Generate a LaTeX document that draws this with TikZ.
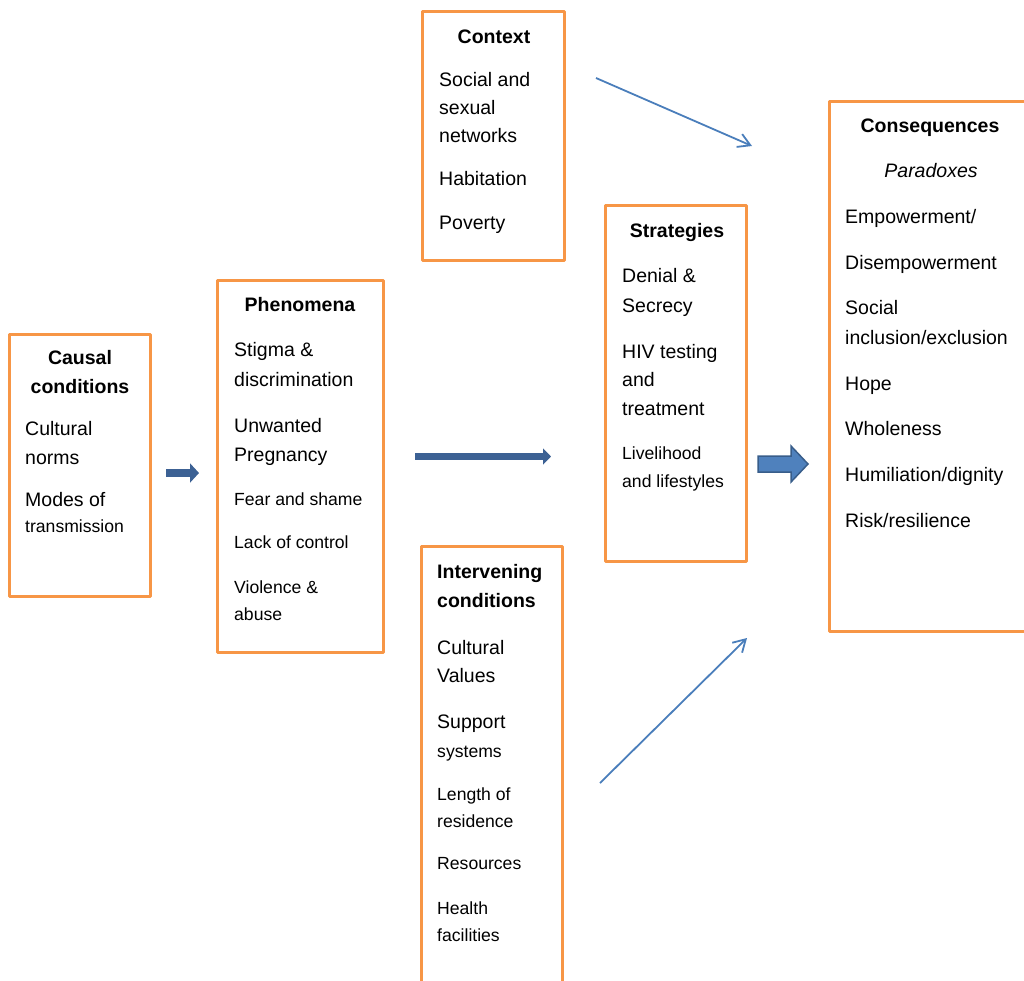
\documentclass[tikz,border=0pt]{standalone}
\usepackage{fontspec}
\setmainfont{Liberation Sans}
\usetikzlibrary{arrows.meta}

\definecolor{boxorange}{HTML}{F79646}
\definecolor{darkarrow}{HTML}{3C6194}
\definecolor{fillarrow}{HTML}{4F81BD}
\definecolor{edgearrow}{HTML}{385D8A}
\definecolor{thinarrow}{HTML}{4A7EBB}

\tikzset{
  box/.style={draw=boxorange, line width=3pt, line join=round, inner sep=0pt, outer sep=0pt, anchor=north west},
  lg/.style={inner sep=0pt, anchor=base west, font=\fontsize{19.5}{23}\selectfont},
  sm/.style={inner sep=0pt, anchor=base west, font=\fontsize{17.6}{21}\selectfont},
  hd/.style={inner sep=0pt, anchor=base, font=\fontsize{19.5}{23}\selectfont\bfseries},
  thin/.style={draw=thinarrow, line width=1.8pt, -{Straight Barb[length=12pt,width=14pt]}},
}

\begin{document}
\begin{tikzpicture}[x=1pt, y=-1pt]
			\useasboundingbox (0,0) rectangle (1024,980);
			\clip (0,0) rectangle (1024,980);
			
			% Boxes
			\node[box, minimum width=141pt, minimum height=262pt] (causal) at (9.5,334.5) {};
			\node[box, minimum width=166pt, minimum height=372pt] (phen) at (217.5,280.5) {};
			\node[box, minimum width=142pt, minimum height=248.5pt] (ctx) at (422.5,11.5) {};
			\node[box, minimum width=141pt, minimum height=453.5pt] (interv) at (421.5,546.5) {};
			\node[box, minimum width=141pt, minimum height=356pt] (strat) at (605.5,205.5) {};
			\node[box, minimum width=211pt, minimum height=530pt] (conseq) at (829,101) {};
			
			% Causal conditions
			\node[hd] (causal-t1) at (80,364.5) {Causal};
			\node[hd] (causal-t2) at (80,393.5) {conditions};
			\node[lg] (causal-1) at (25,435.5) {Cultural};
			\node[lg] (causal-2) at (25,464.5) {norms};
			\node[lg] (causal-3) at (25,506.5) {Modes of};
			\node[sm] (causal-4) at (25,532.5) {transmission};
			
			% Phenomena
			\node[hd] (phen-t) at (300,311.5) {Phenomena};
			\node[lg] (phen-1) at (234,356.5) {Stigma \&};
			\node[lg] (phen-2) at (234,386.5) {discrimination};
			\node[lg] (phen-3) at (234,432.5) {Unwanted};
			\node[lg] (phen-4) at (234,461.5) {Pregnancy};
			\node[sm] (phen-5) at (234,505.5) {Fear and shame};
			\node[sm] (phen-6) at (234,548.5) {Lack of control};
			\node[sm] (phen-7) at (234,593.5) {Violence \&};
			\node[sm] (phen-8) at (234,620.5) {abuse};
			
			% Context
			\node[hd] (ctx-t) at (494,43) {Context};
			\node[lg] (ctx-1) at (439,86.5) {Social and};
			\node[lg] (ctx-2) at (439,114.5) {sexual};
			\node[lg] (ctx-3) at (439,142.5) {networks};
			\node[lg] (ctx-4) at (439,185.5) {Habitation};
			\node[lg] (ctx-5) at (439,229.5) {Poverty};
			
			% Intervening conditions
			\node[hd, anchor=base west] (interv-t1) at (437,578.5) {Intervening};
			\node[hd, anchor=base west] (interv-t2) at (437,607.5) {conditions};
			\node[lg] (interv-1) at (437,654.5) {Cultural};
			\node[lg] (interv-2) at (437,682.5) {Values};
			\node[lg] (interv-3) at (437,728.5) {Support};
			\node[sm] (interv-4) at (437,757.5) {systems};
			\node[sm] (interv-5) at (437,800.5) {Length of};
			\node[sm] (interv-6) at (437,827.5) {residence};
			\node[sm] (interv-7) at (437,869.5) {Resources};
			\node[sm] (interv-8) at (437,914.5) {Health};
			\node[sm] (interv-9) at (437,941.5) {facilities};
			
			% Strategies
			\node[hd] (strat-t) at (677,237.5) {Strategies};
			\node[lg] (strat-1) at (622,282.5) {Denial \&};
			\node[lg] (strat-2) at (622,312.5) {Secrecy};
			\node[lg] (strat-3) at (622,358.5) {HIV testing};
			\node[lg] (strat-4) at (622,386.5) {and};
			\node[lg] (strat-5) at (622,415.5) {treatment};
			\node[sm] (strat-6) at (622,459.5) {Livelihood};
			\node[sm] (strat-7) at (622,487.5) {and lifestyles};
			
			% Consequences
			\node[hd] (conseq-t) at (930,132.5) {Consequences};
			\node[hd, font=\fontsize{19.5}{23}\selectfont\itshape] (conseq-p) at (931,177.5) {Paradoxes};
			\node[lg] (conseq-1) at (845,223.5) {Empowerment/};
			\node[lg] (conseq-2) at (845,269.5) {Disempowerment};
			\node[lg] (conseq-3) at (845,314.5) {Social};
			\node[lg] (conseq-4) at (845,344.5) {inclusion/exclusion};
			\node[lg] (conseq-5) at (845,390.5) {Hope};
			\node[lg] (conseq-6) at (845,435.5) {Wholeness};
			\node[lg] (conseq-7) at (845,481.5) {Humiliation/dignity};
			\node[lg] (conseq-8) at (845,527.5) {Risk/resilience};
			
			% Arrow ends
			\coordinate (a1) at (166,473);
			\coordinate (b1) at (199,473);
			\coordinate (a2) at (415,456.5);
			\coordinate (b2) at (551,456.5);
			\coordinate (a3) at (596,78);
			\coordinate (b3) at (752,146);
			\coordinate (a4) at (600,783);
			\coordinate (b4) at (747,638);
			
			% Block arrows
			\draw[darkarrow, line width=8pt, -{Triangle[length=9pt,width=19pt]}] (a1) -- (b1);
			\draw[darkarrow, line width=7pt, -{Triangle[length=8pt,width=16pt]}] (a2) -- (b2);
			\filldraw[fill=fillarrow, draw=edgearrow, line width=1.5pt, line join=miter]
				(758,456) -- (791,456) -- (791,446) -- (808,464) -- (791,482) -- (791,472) -- (758,472) -- cycle;
			
			% Thin arrows
			\draw[thin] (a3) -- (b3);
			\draw[thin] (a4) -- (b4);
		\end{tikzpicture}
\end{document}
